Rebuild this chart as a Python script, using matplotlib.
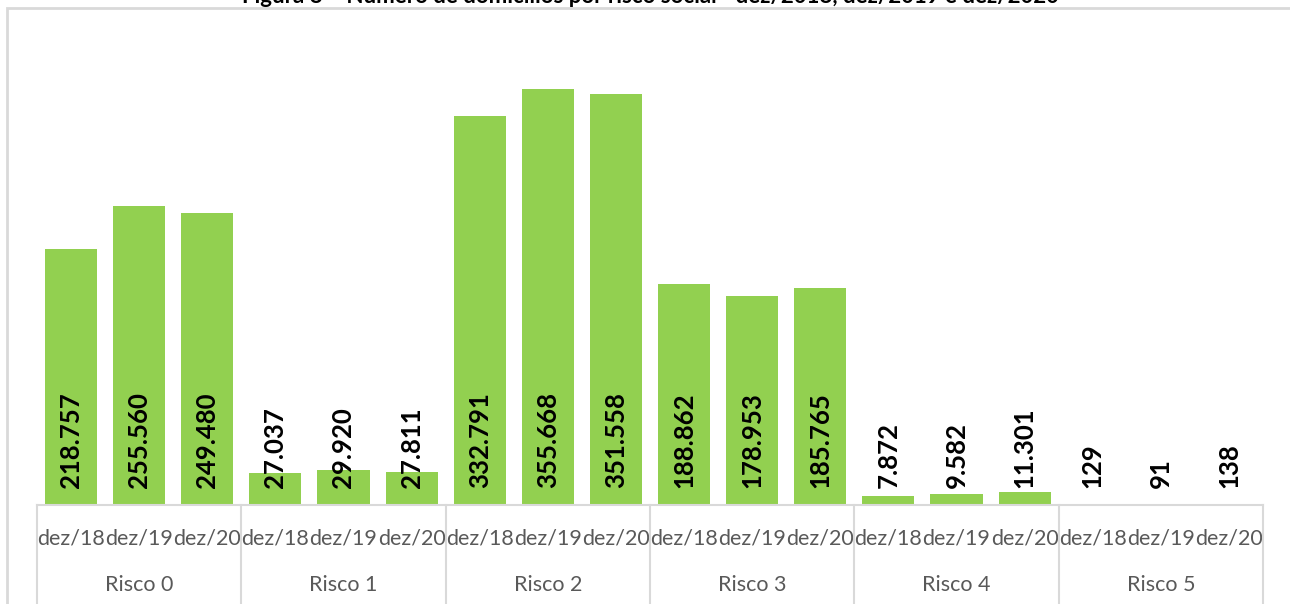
import matplotlib.pyplot as plt
from matplotlib.patches import Rectangle
from matplotlib.lines import Line2D

grupos = ["Risco 0", "Risco 1", "Risco 2", "Risco 3", "Risco 4", "Risco 5"]
periodos = ["dez/18", "dez/19", "dez/20"]
dez18 = [218757, 27037, 332791, 188862, 7872, 129]
dez19 = [255560, 29920, 355668, 178953, 9582, 91]
dez20 = [249480, 27811, 351558, 185765, 11301, 138]

titulo = "Figura 8 – Número de domicílios por risco social - dez/2018, dez/2019 e dez/2020"

W, H = 1290, 604
fig = plt.figure(figsize=(W / 100, H / 100), dpi=100)
fig.patch.set_facecolor("white")

# moldura cinza clara do gráfico
fig.patches.append(Rectangle((7 / W, -0.1), 1.2, 1 - 8 / H + 0.1, transform=fig.transFigure,
                             fill=False, edgecolor="#d9d9d9", linewidth=2))

left, right, base, top = 37, 1263, 505, 37
ax = fig.add_axes([left / W, 1 - base / H, (right - left) / W, (base - top) / H])

valores = []
rotulos = []
for i in range(len(grupos)):
    for j, serie in enumerate([dez18, dez19, dez20]):
        valores.append(serie[i])
        rotulos.append(periodos[j])
xs = list(range(len(valores)))

ax.bar(xs, valores, width=0.765, color="#92d050")
ax.set_xlim(-0.5, len(valores) - 0.5)
ax.set_ylim(0, 400000)

for x, v in zip(xs, valores):
    ax.annotate(f"{v:,}".replace(",", "."), (x, 0), xytext=(0, 12), textcoords="offset points",
                rotation=90, ha="center", va="bottom", fontsize=18.5, fontweight="bold",
                family="Lato", color="black")

for s in ax.spines.values():
    s.set_visible(False)
ax.set_yticks([])
ax.set_xticks(xs)
ax.set_xticklabels(rotulos, family="Lato", fontsize=15.5, color="#595959")
ax.tick_params(axis="x", length=0, pad=17)

# eixo de categorias: linha base e separadores dos grupos
ax.add_line(Line2D([-0.5, len(valores) - 0.5], [0, 0], color="#d9d9d9", lw=1.5,
                   transform=ax.get_xaxis_transform(), clip_on=False))
for k in range(len(grupos) + 1):
    ax.add_line(Line2D([3 * k - 0.5] * 2, [0, -0.3], color="#d9d9d9", lw=1.5,
                       transform=ax.get_xaxis_transform(), clip_on=False))
for i, g in enumerate(grupos):
    ax.text(3 * i + 1, -80 / (base - top), g, transform=ax.get_xaxis_transform(),
            ha="center", va="center", family="Lato", fontsize=15.5, color="#595959")

fig.text(650 / W, 1 - 3 / H, titulo, ha="center", va="baseline", fontsize=16,
         fontweight="bold", family="Lato", color="black")

fig.savefig("out.png", dpi=100)
